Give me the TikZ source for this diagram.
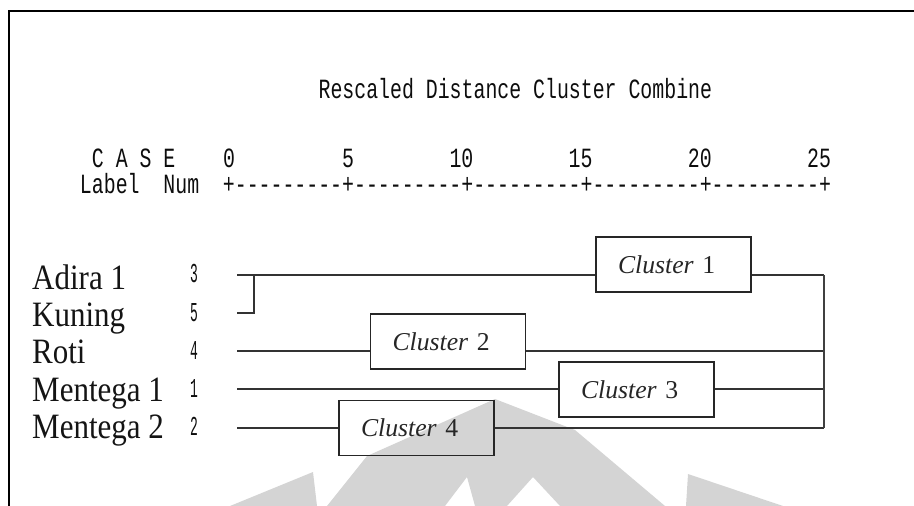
\documentclass[tikz,border=0pt]{standalone}
\usepackage{fontspec}
\setmainfont{Liberation Serif}
\newfontfamily\spssfont[Ligatures=TeXOff]{Liberation Mono}

% SPSS output is a fixed-pitch grid: one column = 11.92pt, column 0 at x = 229
\newcommand{\colx}[1]{229+11.92*(#1)}
\newcommand{\tallmono}[1]{\scalebox{1}[1.4]{#1}}
\newcommand{\tallnum}[1]{\scalebox{1}[2.1]{#1}}
\newcommand{\tallserif}[1]{\scalebox{1}[1.15]{#1}}

\tikzset{
  frame/.style={line width=2.4pt, black},
  tree/.style={line width=1.8pt, black!80},
  spine/.style={line width=1.4pt, black!75},
  clusterbox/.style={draw=black!85, line width=1.8pt, inner xsep=22pt, inner ysep=0pt,
    text width=111pt, align=left, minimum height=55pt,
    font=\fontsize{25.7}{28}\selectfont, text=black!85},
  spss/.style={font=\spssfont\fontsize{19.87}{20}\selectfont, text=black!95, inner sep=0pt,
    text height=16.5pt, text depth=0pt},
  casenum/.style={font=\spssfont\fontsize{13}{14}\selectfont, text=black!95, inner sep=0pt,
    text height=14pt, text depth=0pt},
  caselabel/.style={anchor=base west, inner sep=0pt, font=\fontsize{31}{34}\selectfont, text=black!92},
  watermark/.style={fill=black!17, draw=none},
}

\begin{document}
\begin{tikzpicture}[x=1pt, y=-1pt]
\useasboundingbox (0,0) rectangle (914,506);

% faint logo rays in the background
\fill[watermark] (230,506) -- (313,472) -- (317,506) -- cycle;
\fill[watermark] (327,506) -- (367,456) -- (495,399) -- (575,430) -- (665,506)
   -- (560,506) -- (533,477) -- (507,506)
   -- (475,506) -- (467,477) -- (445,506) -- cycle;
\fill[watermark] (686,506) -- (688,474) -- (783,506) -- cycle;

% page frame (top and left edges)
\coordinate (fl) at (9,506);
\coordinate (fc) at (9,11);
\coordinate (fr) at (914,11);
\draw[frame] (fl) -- (fc) -- (fr);

% header of the dendrogram
\node[spss, anchor=west] (title) at (318.4,90) {\tallmono{Rescaled Distance Cluster Combine}};

\node[spss] (hC) at ({\colx{-11}},159) {\tallmono{C}};
\node[spss] (hA) at ({\colx{-9}},159) {\tallmono{A}};
\node[spss] (hS) at ({\colx{-7}},159) {\tallmono{S}};
\node[spss] (hE) at ({\colx{-5}},159) {\tallmono{E}};
\node[spss] (t0)  at ({\colx{0}},159) {\tallmono{0}};
\node[spss] (t5)  at ({\colx{10}},159) {\tallmono{5}};
\node[spss] (t10) at ({\colx{19.5}},159) {\tallmono{10}};
\node[spss] (t15) at ({\colx{29.5}},159) {\tallmono{15}};
\node[spss] (t20) at ({\colx{39.5}},159) {\tallmono{20}};
\node[spss] (t25) at ({\colx{49.5}},159) {\tallmono{25}};

\node[spss] (hlabel) at ({\colx{-10}},185) {\tallmono{Label}};
\node[spss] (hnum)   at ({\colx{-4}},185) {\tallmono{Num}};
\node[spss] (axis)   at ({\colx{25}},185) {\tallmono{+---------+---------+---------+---------+---------+}};

% case labels and numbers
\node[caselabel] (lab3) at (32,289) {\tallserif{Adira 1}};
\node[caselabel] (lab5) at (32,326) {\tallserif{Kuning}};
\node[caselabel] (lab4) at (32,363) {\tallserif{Roti}};
\node[caselabel] (lab1) at (32,401) {\tallserif{Mentega 1}};
\node[caselabel] (lab2) at (32,438) {\tallserif{Mentega 2}};

\node[casenum] (n3) at (194,275) {\tallnum{3}};
\node[casenum] (n5) at (194,314) {\tallnum{5}};
\node[casenum] (n4) at (194,352) {\tallnum{4}};
\node[casenum] (n1) at (194,390) {\tallnum{1}};
\node[casenum] (n2) at (194,428) {\tallnum{2}};

% cluster boxes
\node[clusterbox] (c1) at (673.5,264.5) {\textit{Cluster} 1};
\node[clusterbox] (c2) at (448,341.5) {\textit{Cluster} 2};
\node[clusterbox] (c3) at (636.5,389.5) {\textit{Cluster} 3};
\node[clusterbox] (c4) at (416.5,428) {\textit{Cluster} 4};

% branch ends
\coordinate (s3) at (237,275);
\coordinate (s5) at (237,313);
\coordinate (s4) at (237,351);
\coordinate (s1) at (237,389);
\coordinate (s2) at (237,428);
\coordinate (j3) at (254,275);
\coordinate (e3) at (824,275);
\coordinate (e4) at (824,351);
\coordinate (e1) at (824,389);
\coordinate (e2) at (824,428);

% dendrogram branches
\draw[tree] (s5) -| (j3);
\draw[tree] (s3) -- (c1.west |- s3);
\draw[tree] (c1.east |- s3) -- (e3);
\draw[tree] (s4) -- (c2.west |- s4);
\draw[tree] (c2.east |- s4) -- (e4);
\draw[tree] (s1) -- (c3.west |- s1);
\draw[tree] (c3.east |- s1) -- (e1);
\draw[tree] (s2) -- (c4.west |- s2);
\draw[tree] (c4.east |- s2) -- (e2);
\draw[spine] (e3) -- (e2);
\end{tikzpicture}
\end{document}
